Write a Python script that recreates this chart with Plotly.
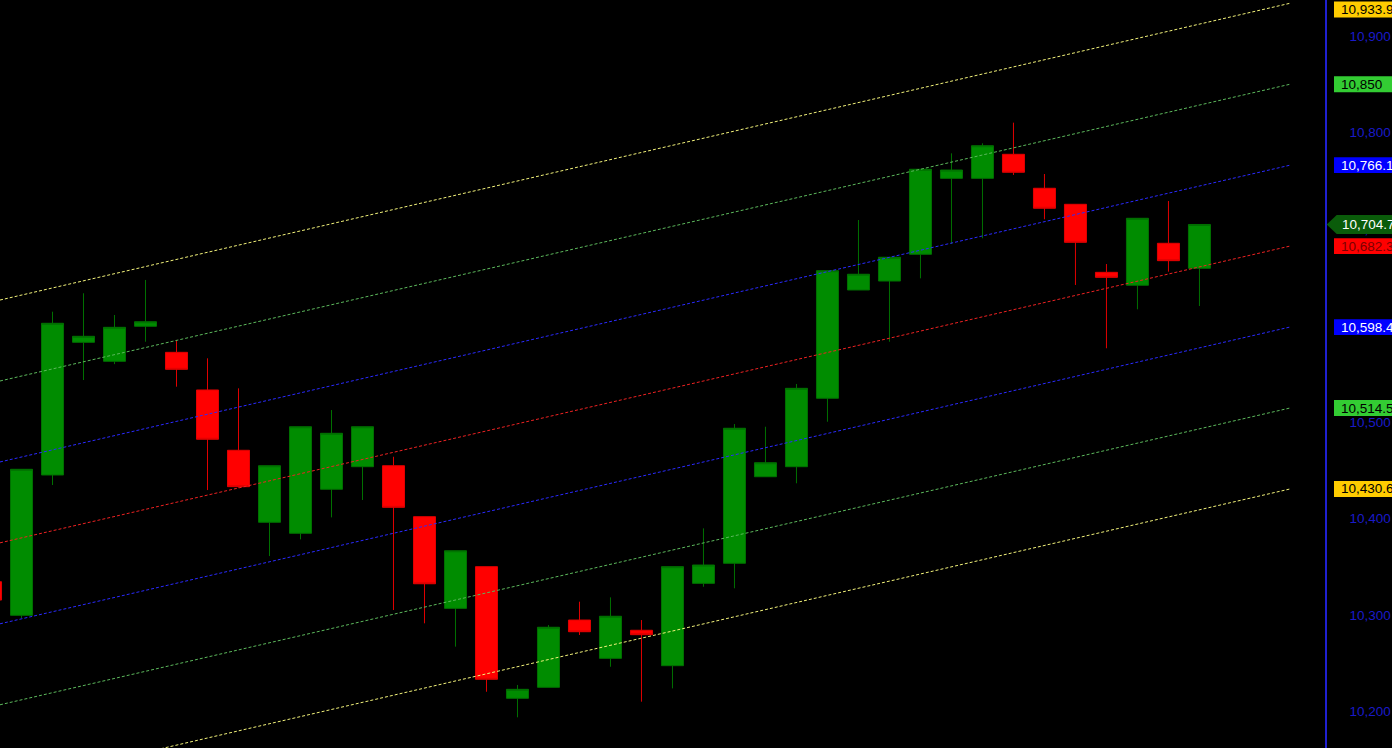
import plotly.graph_objects as go

# ---------------- data ----------------
bar_index = list(range(40))
opens = [10334.5, 10299.7, 10445.1, 10582.6, 10562.9, 10599.2, 10572.2, 10533.2, 10470.7, 10396.1,
         10384.7, 10430.3, 10453.7, 10454.7, 10401.9, 10306.9, 10350.1, 10213.7, 10225.1, 10294.8,
         10255.1, 10284.2, 10247.5, 10332.8, 10353.6, 10443.3, 10453.7, 10524.6, 10636.8, 10646.1,
         10673.8, 10752.5, 10752.5, 10777.4, 10742.2, 10725.6, 10655.1, 10641.7, 10685.2, 10659.3]
highs = [10341.5, 10451.0, 10614.3, 10633.4, 10610.9, 10647.2, 10585.0, 10566.0, 10534.9, 10454.7,
         10495.1, 10512.4, 10495.1, 10464.0, 10401.9, 10366.6, 10350.1, 10227.5, 10289.6, 10313.8,
         10318.3, 10294.8, 10350.1, 10389.8, 10497.9, 10495.1, 10539.4, 10656.8, 10709.3, 10670.7,
         10761.9, 10778.4, 10788.8, 10810.2, 10757.0, 10725.6, 10663.7, 10711.1, 10729.0, 10704.7]
lows = [10310.4, 10296.9, 10434.7, 10543.5, 10560.0, 10583.2, 10536.6, 10429.5, 10432.0, 10361.1,
        10378.4, 10401.2, 10419.2, 10305.2, 10291.4, 10267.2, 10220.5, 10194.0, 10225.1, 10279.3,
        10246.4, 10210.2, 10224.0, 10329.3, 10327.7, 10443.0, 10436.5, 10500.3, 10636.8, 10583.2,
        10648.9, 10684.5, 10690.4, 10756.0, 10710.1, 10642.0, 10576.4, 10616.8, 10655.8, 10620.2]
closes = [10315.5, 10451.0, 10602.3, 10588.8, 10598.1, 10603.9, 10554.6, 10482.1, 10433.0, 10454.7,
          10495.1, 10488.3, 10495.1, 10411.6, 10332.4, 10366.6, 10233.4, 10223.0, 10287.3, 10282.7,
          10298.7, 10279.6, 10350.1, 10351.8, 10493.5, 10457.8, 10534.9, 10656.8, 10653.1, 10670.7,
          10761.9, 10761.1, 10786.3, 10758.8, 10721.5, 10686.2, 10649.9, 10711.1, 10667.2, 10704.7]

# regression channel levels (start at left edge, end at right end of the lines)
channel_start = [10626.4, 10542.5, 10458.6, 10374.8, 10290.9, 10207.0, 10123.1]
channel_end = [10933.9, 10850.0, 10766.1, 10682.3, 10598.4, 10514.5, 10430.6]
channel_labels = ["10,933.9", "10,850", "10,766.1", "10,682.3", "10,598.4", "10,514.5", "10,430.6"]
CH_X0, CH_X1 = 0.306, 41.92

# ---------------- styles ----------------
W, H = 1392, 748
R_MARGIN = 67
PLOT_W = W - R_MARGIN
X_RANGE = [0.306, 43.05]
Y_RANGE = [10162.2, 10937.3]
UPP = (Y_RANGE[1] - Y_RANGE[0]) / H  # value units per pixel

line_colors = ["#f2f27a", "#5cb85c", "#2a2aff", "#ee2222", "#2a2aff", "#5cb85c", "#f2f27a"]
box_bg = ["#ffcc00", "#33cc33", "#0000ff", "#ff0000", "#0000ff", "#33cc33", "#ffcc00"]
box_fg = ["#000000", "#000000", "#ffffff", "#7a0000", "#ffffff", "#000000", "#000000"]
FONT = "Arial, Liberation Sans, sans-serif"

fig = go.Figure()

for s, e, c in zip(channel_start, channel_end, line_colors):
    fig.add_trace(go.Scatter(
        x=[CH_X0, CH_X1], y=[s, e], mode="lines",
        line=dict(color=c, width=1, dash="3px,2px"),
        hoverinfo="skip", showlegend=False))

fig.add_trace(go.Candlestick(
    x=bar_index, open=opens, high=highs, low=lows, close=closes,
    increasing=dict(fillcolor="#008c00", line=dict(color="#007000", width=1)),
    decreasing=dict(fillcolor="#ff0000", line=dict(color="#e00000", width=1)),
    whiskerwidth=0, showlegend=False))

shapes = []
annotations = []
px = 1.0 / PLOT_W
half = 7.9 * UPP
for v, txt, bg, fg in zip(channel_end, channel_labels, box_bg, box_fg):
    yc = min(v, Y_RANGE[1] - 9.5 * UPP)
    shapes.append(dict(type="rect", xref="paper", yref="y",
                       x0=1 + 9 * px, x1=1 + 80 * px, y0=yc - half, y1=yc + half,
                       fillcolor=bg, line=dict(width=0), layer="above"))
    annotations.append(dict(xref="paper", yref="y", x=1 + 14 * px, y=yc,
                            xanchor="left", yanchor="middle", text=txt, showarrow=False,
                            font=dict(family=FONT, size=13.5, color=fg)))

# last close marker (arrow shaped)
last = closes[-1]
ah = 9.5 * UPP
path = (f"M {1 + 1.7 * px} {last} L {1 + 11.7 * px} {last + ah} L {1 + 80 * px} {last + ah} "
        f"L {1 + 80 * px} {last - ah} L {1 + 11.7 * px} {last - ah} Z")
shapes.append(dict(type="path", xref="paper", yref="y", path=path,
                   fillcolor="#0a5c0a", line=dict(width=0), layer="above"))
annotations.append(dict(xref="paper", yref="y", x=1 + 15 * px, y=last,
                        xanchor="left", yanchor="middle", text=f"{last:,.1f}", showarrow=False,
                        font=dict(family=FONT, size=13.5, color="#ffffff")))

fig.update_layout(
    width=W, height=H,
    margin=dict(l=0, r=R_MARGIN, t=0, b=0, pad=0),
    paper_bgcolor="#000000", plot_bgcolor="#000000",
    showlegend=False,
    boxgap=0.29, boxgroupgap=0,
    shapes=shapes, annotations=annotations,
    xaxis=dict(range=X_RANGE, showgrid=False, zeroline=False, showticklabels=False,
               showline=False, ticks="", rangeslider=dict(visible=False), fixedrange=True),
    yaxis=dict(range=Y_RANGE, side="right", showgrid=False, zeroline=False,
               dtick=100, tickformat=",d", ticks="", ticklabelstandoff=20,
               tickfont=dict(family=FONT, size=13.5, color="#1a1ac8"),
               showline=True, linecolor="#2020d0", linewidth=1.5, fixedrange=True),
)

fig.write_html(
    "out.html",
    config={"displayModeBar": False},
    post_script="document.body.style.margin='0';document.body.style.overflow='hidden';"
                "document.body.style.background='#000';",
)
